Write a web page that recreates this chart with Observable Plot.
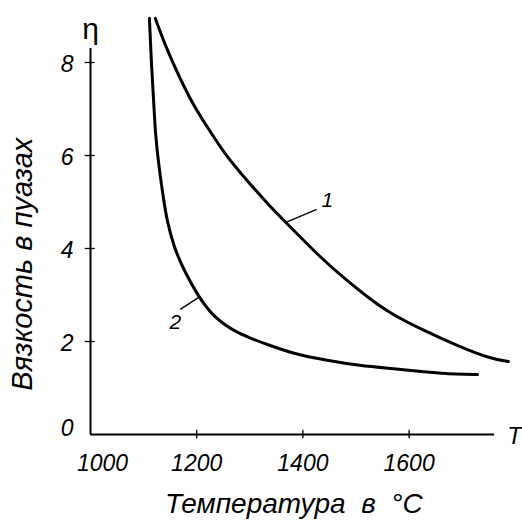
<!DOCTYPE html>
<html>
<head>
<meta charset="utf-8">
<script src="https://cdn.jsdelivr.net/npm/d3@7"></script>
<script src="https://cdn.jsdelivr.net/npm/@observablehq/plot@0.6"></script>
<style>
  html, body { margin: 0; padding: 0; background: #fff; }
</style>
</head>
<body>
<div id="chart"></div>
<script>
// Curve 1
const curve1T   = [1122, 1144, 1188, 1220, 1257, 1295, 1339, 1368, 1439, 1476, 1522, 1565, 1627, 1691, 1753, 1787];
const curve1Eta = [8.95, 8.26, 7.18, 6.61, 5.96, 5.46, 4.89, 4.56, 3.74, 3.38, 2.95, 2.60, 2.24, 1.91, 1.63, 1.57];
// Curve 2
const curve2T   = [1111, 1115, 1119, 1122, 1129, 1138, 1144, 1157, 1176, 1204, 1232, 1276, 1339, 1382, 1446, 1508, 1565, 1627, 1691, 1729];
const curve2Eta = [8.95, 7.89, 7.18, 6.47, 5.74, 5.03, 4.60, 4.03, 3.53, 2.95, 2.52, 2.17, 1.91, 1.74, 1.59, 1.48, 1.42, 1.35, 1.29, 1.29];

const xTicks = [1000, 1200, 1400, 1600];
const yTicks = [0, 2, 4, 6, 8];
const xAxisEnd = 1761;
const yAxisTop = 8.3;

const curveNames = ["1", "2"];
const labelT   = [1446, 1160];
const labelEta = [5.03, 2.41];
const leaderT1 = [1368, 1204];
const leaderE1 = [4.56, 2.95];
const leaderT2 = [1426, 1169];
const leaderE2 = [4.84, 2.69];

const xTitle = "Температура  в  °C";
const yTitle = "Вязкость в пуазах";

const c1 = curve1T.map((t, i) => ({T: t, eta: curve1Eta[i]}));
const c2 = curve2T.map((t, i) => ({T: t, eta: curve2Eta[i]}));
const labels = curveNames.map((n, i) => ({n, T: labelT[i], eta: labelEta[i], T1: leaderT1[i], E1: leaderE1[i], T2: leaderT2[i], E2: leaderE2[i]}));

const font = "'Liberation Sans', Arial, sans-serif";

const chart = Plot.plot({
  width: 522,
  height: 523,
  marginLeft: 90,
  marginRight: 7.2,
  marginTop: 15.5,
  marginBottom: 89,
  style: {fontFamily: font, background: "#fff", color: "#000"},
  x: {domain: [1000, 1800], axis: null},
  y: {domain: [0, 9], axis: null},
  marks: [
    // axes lines
    Plot.ruleY([0], {x1: 1000, x2: xAxisEnd, stroke: "#000", strokeWidth: 2}),
    Plot.ruleX([1000], {y1: 0, y2: yAxisTop, stroke: "#000", strokeWidth: 2}),
    // tick crosses
    Plot.ruleX(xTicks.slice(1), {y1: -0.09, y2: 0.09, stroke: "#000", strokeWidth: 1.3}),
    Plot.ruleY(yTicks.slice(1), {x1: 990, x2: 1009, stroke: "#000", strokeWidth: 1.3}),
    // tick labels
    Plot.text(xTicks.slice(0, 1), {x: d => d, y: 0, text: d => String(d), dx: 12, dy: 29, fontSize: 23, fontStyle: "italic"}),
    Plot.text(xTicks.slice(1), {x: d => d, y: 0, text: d => String(d), dy: 29, fontSize: 23, fontStyle: "italic"}),
    Plot.text(yTicks.slice(0, 1), {x: 1000, y: d => d, text: d => String(d), dx: -17, dy: -6, textAnchor: "end", fontSize: 23, fontStyle: "italic"}),
    Plot.text(yTicks.slice(1), {x: 1000, y: d => d, text: d => String(d), dx: -17, dy: 2, textAnchor: "end", fontSize: 23, fontStyle: "italic"}),
    // axis symbols
    Plot.text(["η"], {x: 1000, y: yAxisTop, text: d => d, dy: -19, fontSize: 30}),
    Plot.text(["T"], {x: xAxisEnd, y: 0, text: d => d, dx: 20, dy: 2, fontSize: 24, fontStyle: "italic"}),
    // axis titles
    Plot.text([xTitle], {frameAnchor: "bottom", textAnchor: "middle", text: d => d, dx: -9, dy: 78, fontSize: 28, fontStyle: "italic"}),
    Plot.text([yTitle], {frameAnchor: "left", textAnchor: "middle", text: d => d, dx: -68, dy: 39, rotate: -90, fontSize: 29, fontStyle: "italic"}),
    // curves
    Plot.line(c1, {x: "T", y: "eta", curve: "basis", stroke: "#000", strokeWidth: 3, strokeLinecap: "round"}),
    Plot.line(c2, {x: "T", y: "eta", curve: "basis", stroke: "#000", strokeWidth: 3, strokeLinecap: "round"}),
    // curve labels
    Plot.link(labels, {x1: "T1", y1: "E1", x2: "T2", y2: "E2", stroke: "#000", strokeWidth: 1.4}),
    Plot.text(labels, {x: "T", y: "eta", text: "n", fontSize: 21, fontStyle: "italic"})
  ]
});
document.getElementById("chart").appendChild(chart);
</script>
</body>
</html>
